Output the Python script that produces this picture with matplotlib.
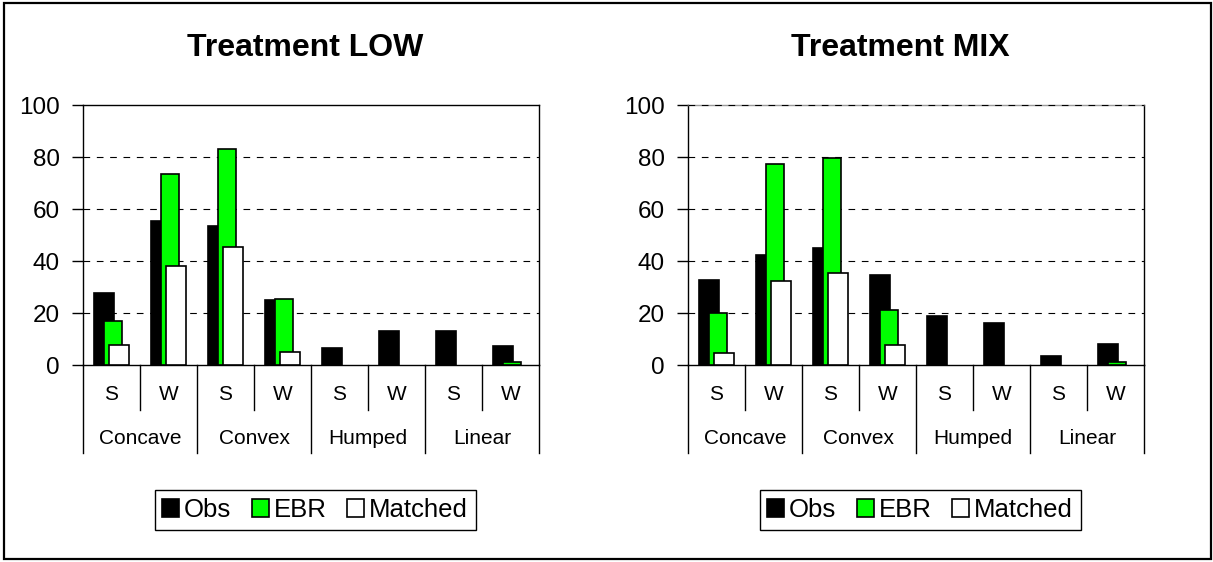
import matplotlib.pyplot as plt
from matplotlib.patches import Rectangle
import numpy as np

plt.rcParams['font.family'] = ['Liberation Sans', 'DejaVu Sans']

groups = ['Concave', 'Convex', 'Humped', 'Linear']
seasons = ['S', 'W']
series = ['Obs', 'EBR', 'Matched']

low_obs = [27.6, 55.5, 53.5, 25.0, 6.7, 13.0, 13.0, 7.3]
low_ebr = [16.9, 73.5, 83.1, 25.3, 0, 0, 0, 1.2]
low_matched = [7.6, 38.1, 45.5, 5.0, 0, 0, 0, 0]

mix_obs = [32.6, 42.2, 45.1, 34.5, 19.0, 16.0, 3.6, 8.0]
mix_ebr = [20.0, 77.2, 79.7, 21.3, 0, 0, 0, 1.0]
mix_matched = [4.5, 32.4, 35.4, 7.7, 0, 0, 0, 0]

colors = ['black', '#00ff00', 'white']
offsets = [-0.125, 0.02, 0.135]
widths = [0.35, 0.32, 0.35]

W, H = 1213, 562
fig = plt.figure(figsize=(W / 100, H / 100), dpi=100)
fig.patches.append(Rectangle((4 / W, 3 / H), 1207 / W, 556 / H, transform=fig.transFigure,
                             fill=False, edgecolor='black', linewidth=1.6))


def draw_panel(left_px, title, title_x, data, top_dashed):
    ax = fig.add_axes([left_px / W, (H - 365) / H, 456 / W, 260 / H])
    x = np.arange(8)
    for vals, c, off, w, name in zip(data, colors, offsets, widths, series):
        v = np.array(vals, dtype=float)
        v[v == 0] = np.nan  # empty cells are not drawn
        ax.bar(x + off, v, width=w, color=c, edgecolor='black', linewidth=1.2,
               label=name, zorder=3)
    ax.set_xlim(-0.5, 7.5)
    ax.set_ylim(0, 100)
    ax.set_yticks(range(0, 101, 20))
    ax.set_xticks([])
    ax.tick_params(axis='y', labelsize=17.5, length=8, width=1, pad=8.5)
    for y in range(20, 100, 20):
        ax.axhline(y, color='black', linewidth=0.8, linestyle=(0, (6, 6)), zorder=1)
    for s in ax.spines.values():
        s.set_linewidth(1)
        s.set_color('black')
    if top_dashed:
        ax.spines['top'].set_color('#9a9a9a')
        ax.axhline(100, color='black', linewidth=0.8, linestyle=(0, (6, 6)), zorder=4, clip_on=False)

    # category axis: season labels, group labels and separator lines
    tr = ax.get_xaxis_transform()
    for i in range(8):
        ax.text(i, -0.115, seasons[i % 2], transform=tr, ha='center', va='center', fontsize=15)
    for g, name in enumerate(groups):
        ax.text(2 * g + 0.5, -0.281, name, transform=tr, ha='center', va='center', fontsize=15)
    for b in np.arange(-0.5, 8, 1.0):
        bottom = -0.337 if int(b + 0.5) % 2 == 0 else -0.173
        ax.plot([b, b], [0, bottom], transform=tr, color='black', linewidth=1, clip_on=False)

    ax.text(title_x, 1.219, title, transform=ax.transAxes, ha='center', va='center',
            fontsize=23, fontweight='bold')
    leg = ax.legend(loc='center', bbox_to_anchor=(0.509, -0.558), ncol=3, fontsize=18.5,
                    handlelength=0.65, handleheight=0.65, handletextpad=0.2, columnspacing=0.8,
                    borderpad=0.3, fancybox=False, framealpha=1, edgecolor='black')
    leg.get_frame().set_linewidth(1)
    return ax


draw_panel(83, 'Treatment LOW', 0.487, [low_obs, low_ebr, low_matched], False)
draw_panel(688, 'Treatment MIX', 0.466, [mix_obs, mix_ebr, mix_matched], True)

fig.savefig('out.png', dpi=100)
